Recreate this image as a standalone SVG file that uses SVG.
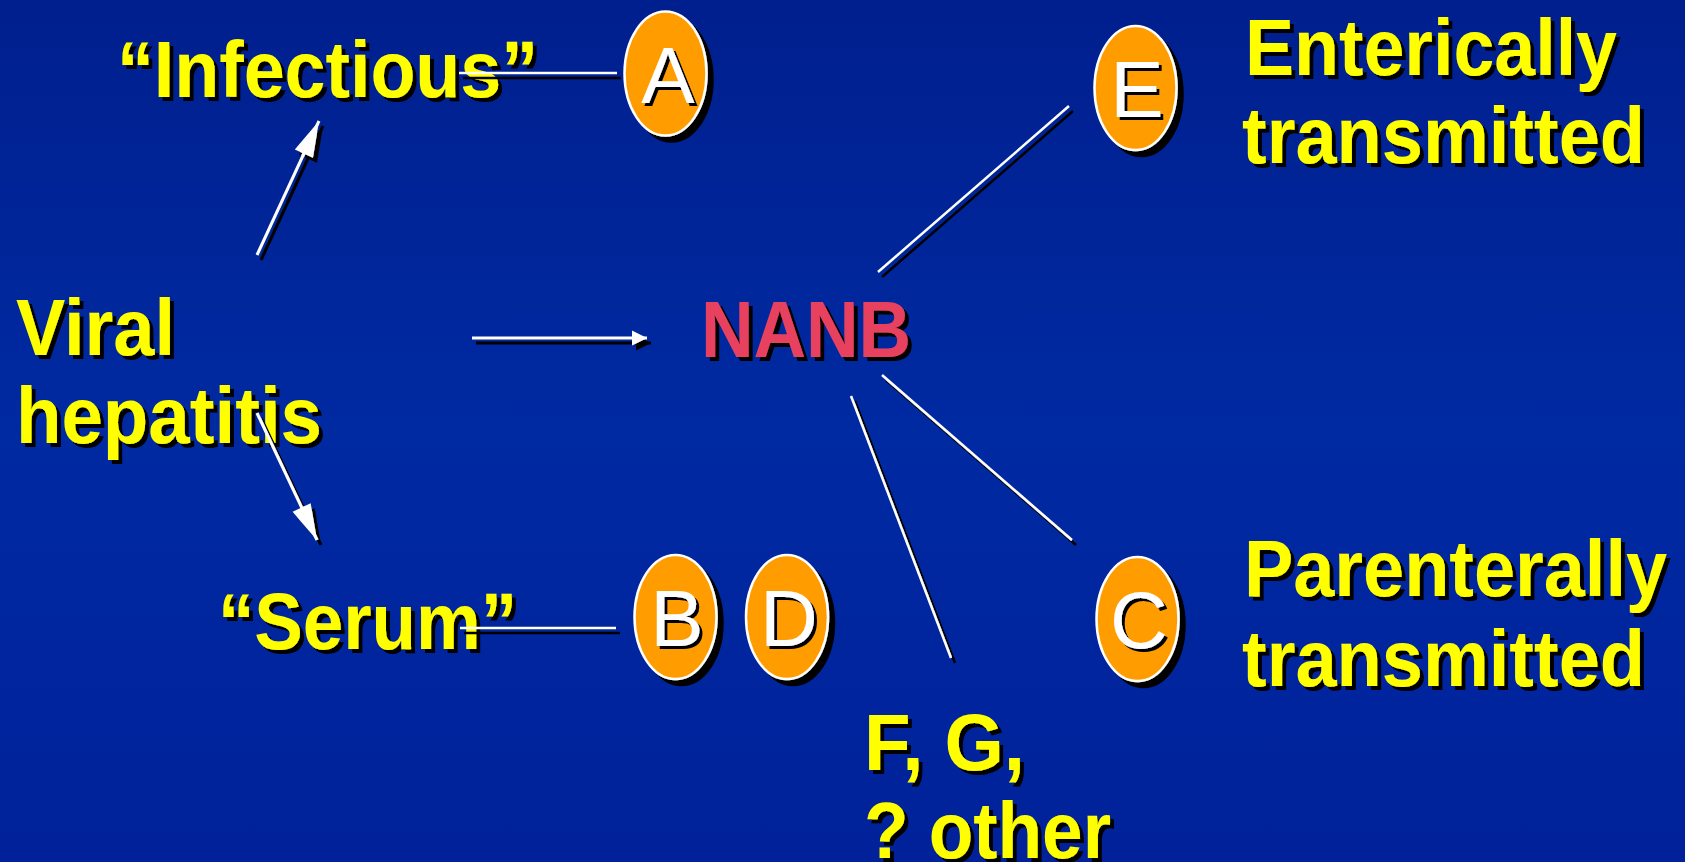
<svg xmlns="http://www.w3.org/2000/svg" width="1685" height="862" viewBox="0 0 1685 862">
  <defs>
    <linearGradient id="bg" x1="0" y1="0" x2="0" y2="1">
      <stop offset="0" stop-color="#001f8e"/>
      <stop offset="0.5" stop-color="#002aa2"/>
      <stop offset="1" stop-color="#00219a"/>
    </linearGradient>
    <!-- hard black drop shadows -->
    <filter id="shText" filterUnits="userSpaceOnUse" x="0" y="0" width="1685" height="862">
      <feDropShadow dx="4" dy="4" stdDeviation="0" flood-color="#000" flood-opacity="1"/>
    </filter>
    <filter id="shLetter" filterUnits="userSpaceOnUse" x="0" y="0" width="1685" height="862">
      <feDropShadow dx="3" dy="3" stdDeviation="0" flood-color="#000" flood-opacity="1"/>
    </filter>
    <filter id="shOval" filterUnits="userSpaceOnUse" x="0" y="0" width="1685" height="862">
      <feDropShadow dx="6" dy="6" stdDeviation="0" flood-color="#000" flood-opacity="1"/>
    </filter>
    <filter id="shLine" filterUnits="userSpaceOnUse" x="0" y="0" width="1685" height="862">
      <feDropShadow dx="4" dy="5" stdDeviation="0" flood-color="#000" flood-opacity="1"/>
    </filter>
    <marker id="headLong" markerUnits="userSpaceOnUse" viewBox="-37 -11 38 22" markerWidth="38" markerHeight="22" refX="0" refY="0" orient="auto">
      <path d="M0,0 L-36,-10 L-36,10 Z" fill="#fff"/>
    </marker>
    <marker id="headShort" markerUnits="userSpaceOnUse" viewBox="-16 -8 17 16" markerWidth="17" markerHeight="16" refX="0" refY="0" orient="auto">
      <path d="M0,0 L-15,-7.5 L-15,7.5 Z" fill="#fff"/>
    </marker>
    <style>
      .lbl { font-family: "Liberation Sans", Arial, sans-serif; font-weight: bold; font-size: 80px; fill: #ffff00; }
      .red { fill: #e8415f; }
      .oval { fill: #ff9c00; stroke: #fff; stroke-width: 2.5; }
      .ltr { font-family: "Liberation Sans", Arial, sans-serif; font-size: 80px; fill: #fff; text-anchor: middle; }
      .wire { stroke: #fff; stroke-width: 2.5; fill: none; }
      .shaft { stroke: #fff; stroke-width: 3; fill: none; }
    </style>
  </defs>

  <rect width="1685" height="862" fill="url(#bg)"/>

  <!-- text labels -->
  <g id="viral" filter="url(#shText)">
    <text class="lbl" x="16" y="355" textLength="159" lengthAdjust="spacingAndGlyphs">Viral</text>
    <text class="lbl" x="16" y="443" textLength="306" lengthAdjust="spacingAndGlyphs">hepatitis</text>
  </g>
  <g id="infectious" filter="url(#shText)">
    <text class="lbl" x="117" y="97" textLength="421" lengthAdjust="spacingAndGlyphs">“Infectious”</text>
  </g>
  <g id="serum" filter="url(#shText)">
    <text class="lbl" x="218" y="649" textLength="299" lengthAdjust="spacingAndGlyphs">“Serum”</text>
  </g>
  <g id="nanb" filter="url(#shText)">
    <text class="lbl red" x="701" y="357" textLength="210" lengthAdjust="spacingAndGlyphs">NANB</text>
  </g>
  <g id="enteric" filter="url(#shText)">
    <text class="lbl" x="1245" y="75" textLength="372" lengthAdjust="spacingAndGlyphs">Enterically</text>
    <text class="lbl" x="1242" y="163" textLength="403" lengthAdjust="spacingAndGlyphs">transmitted</text>
  </g>
  <g id="parenteral" filter="url(#shText)">
    <text class="lbl" x="1244" y="596" textLength="423" lengthAdjust="spacingAndGlyphs">Parenterally</text>
    <text class="lbl" x="1242" y="686" textLength="403" lengthAdjust="spacingAndGlyphs">transmitted</text>
  </g>
  <g id="fg-other" filter="url(#shText)">
    <text class="lbl" x="864" y="770" textLength="161" lengthAdjust="spacingAndGlyphs">F, G,</text>
    <text class="lbl" x="864" y="858" textLength="247" lengthAdjust="spacingAndGlyphs">? other</text>
  </g>

  <!-- lettered virus ovals -->
  <g id="virus-a">
    <ellipse class="oval" cx="665.5" cy="73.5" rx="41" ry="62" filter="url(#shOval)"/>
    <text class="ltr" x="668" y="103" filter="url(#shLetter)">A</text>
  </g>
  <g id="virus-e">
    <ellipse class="oval" cx="1135.5" cy="88" rx="41" ry="62" filter="url(#shOval)"/>
    <text class="ltr" x="1137" y="117" filter="url(#shLetter)">E</text>
  </g>
  <g id="virus-b">
    <ellipse class="oval" cx="675.5" cy="617" rx="41" ry="62" filter="url(#shOval)"/>
    <text class="ltr" x="677" y="646" filter="url(#shLetter)">B</text>
  </g>
  <g id="virus-d">
    <ellipse class="oval" cx="787" cy="617" rx="41" ry="62" filter="url(#shOval)"/>
    <text class="ltr" x="789" y="646" filter="url(#shLetter)">D</text>
  </g>
  <g id="virus-c">
    <ellipse class="oval" cx="1137.5" cy="619" rx="41" ry="62" filter="url(#shOval)"/>
    <text class="ltr" x="1139" y="648" filter="url(#shLetter)">C</text>
  </g>

  <!-- connectors -->
  <g id="connectors" filter="url(#shLine)">
    <line class="shaft" x1="257" y1="255" x2="319" y2="121" marker-end="url(#headLong)"/>
    <line class="shaft" x1="257" y1="413" x2="317" y2="540" marker-end="url(#headLong)"/>
    <line class="shaft" x1="472" y1="338" x2="647" y2="338" marker-end="url(#headShort)"/>
    <line class="wire" x1="459" y1="73" x2="617" y2="73"/>
    <line class="wire" x1="460" y1="628" x2="616" y2="628"/>
    <line class="wire" x1="878" y1="272" x2="1069" y2="106"/>
    <line class="wire" x1="882" y1="375" x2="1072" y2="540"/>
    <line class="wire" x1="851" y1="396" x2="951" y2="658"/>
  </g>
</svg>
